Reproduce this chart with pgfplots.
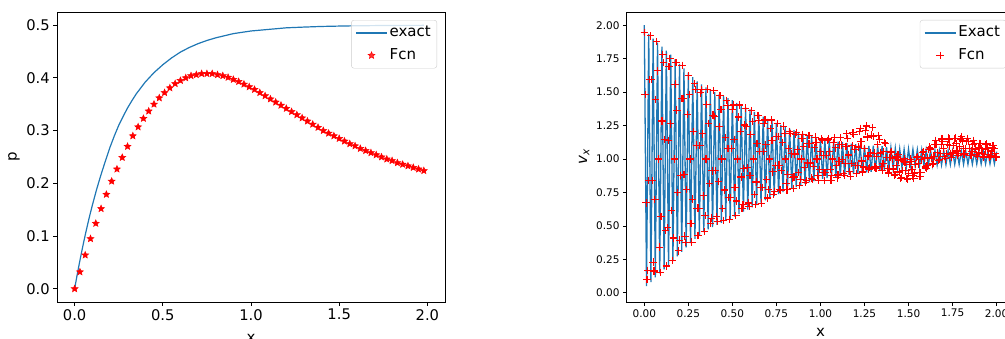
\documentclass[border=0pt]{standalone}
\usepackage{pgfplots}
\pgfplotsset{compat=1.18}
\usepackage{fontspec}
\setmainfont{DejaVu Sans}
\definecolor{mplblue}{HTML}{1F77B4}
\definecolor{legedge}{HTML}{CCCCCC}
\pgfdeclareplotmark{fstar}{%
 \pgfpathmoveto{\pgfpointpolar{90}{\pgfplotmarksize}}%
 \pgfpathlineto{\pgfpointpolar{126}{0.45\pgfplotmarksize}}%
 \pgfpathlineto{\pgfpointpolar{162}{\pgfplotmarksize}}%
 \pgfpathlineto{\pgfpointpolar{198}{0.45\pgfplotmarksize}}%
 \pgfpathlineto{\pgfpointpolar{234}{\pgfplotmarksize}}%
 \pgfpathlineto{\pgfpointpolar{270}{0.45\pgfplotmarksize}}%
 \pgfpathlineto{\pgfpointpolar{306}{\pgfplotmarksize}}%
 \pgfpathlineto{\pgfpointpolar{342}{0.45\pgfplotmarksize}}%
 \pgfpathlineto{\pgfpointpolar{18}{\pgfplotmarksize}}%
 \pgfpathlineto{\pgfpointpolar{54}{0.45\pgfplotmarksize}}%
 \pgfpathclose\pgfusepathqfillstroke}
\pgfplotsset{
 base/.style={
  scale only axis, anchor=south west,
  width=388pt, height=290pt,
  axis line style={line width=0.84pt},
  tick align=outside, major tick length=3.7pt,
  every tick/.style={black, line width=0.84pt},
  xtick pos=bottom, ytick pos=left,
  /pgf/number format/assume math mode=true,
  legend style={at={(1,1)}, anchor=north east, xshift=-8pt, yshift=-8pt,
    draw=legedge, rounded corners=2.5pt, fill=white, fill opacity=0.8, text opacity=1,
    font=\fontsize{15}{18}\selectfont, inner xsep=4pt, inner ysep=3.5pt, row sep=4pt,
    nodes={inner sep=2pt, text height=11pt, text depth=3.5pt}},
  legend cell align=left,
  /tikz/every even column/.append style={column sep=7pt},
 },
 lineleg/.style={legend image code/.code={\draw[##1] (0pt,0pt) -- (31pt,0pt);}},
 markleg/.style={legend image code/.code={\draw[mark repeat=2,mark phase=2,##1] plot coordinates {(0pt,0pt)(15.5pt,0pt)(31pt,0pt)};}},
}
\begin{document}
\begin{tikzpicture}
\begin{axis}[base, at={(57pt,36pt)},
 xmin=-0.1, xmax=2.1, ymin=-0.025, ymax=0.525,
 xtick={0,0.5,1,1.5,2}, ytick={0,0.1,0.2,0.3,0.4,0.5},
 tick label style={font=\fontsize{14.7}{17}\selectfont},
 xticklabel style={/pgf/number format/.cd,fixed,fixed zerofill,precision=1},
 yticklabel style={/pgf/number format/.cd,fixed,fixed zerofill,precision=1},
 xlabel={x}, ylabel={p},
 xlabel style={font=\fontsize{15}{18}\selectfont, at={(axis description cs:0.5,-0.126)}, anchor=center},
 ylabel style={font=\fontsize{15}{18}\selectfont, at={(axis description cs:-0.111,0.5)}, anchor=center},
]
\addplot[mplblue, line width=1.2pt, lineleg] coordinates {
(0,0)(0.0125,0.0232)(0.025,0.0453)(0.0375,0.0664)(0.05,0.0865)(0.0625,0.1057)
(0.075,0.124)(0.0875,0.1415)(0.1,0.158)(0.125,0.189)(0.15,0.217)(0.175,0.243)
(0.2,0.268)(0.225,0.290)(0.25,0.310)(0.275,0.327)(0.3,0.343)(0.325,0.357)
(0.35,0.370)(0.375,0.381)(0.4,0.392)(0.45,0.41)(0.5,0.425)(0.55,0.438)(0.6,0.449)
(0.65,0.4577)(0.7,0.465)(0.75,0.471)(0.8,0.476)(0.9,0.484)(1.0,0.489)(1.1,0.492)
(1.2,0.495)(1.3,0.4964)(1.4,0.4976)(1.5,0.4983)(1.6,0.4989)(1.7,0.4992)(1.8,0.4995)
(1.9,0.4996)(1.98,0.4997)
};
\addlegendentry{exact}
\addplot[only marks, mark=fstar, mark size=3.6pt, red, mark options={fill=red, line width=0.5pt}, markleg] coordinates {
(0,0)(0.03,0.032)(0.06,0.064)(0.09,0.095)(0.12,0.124)(0.15,0.152)(0.18,0.179)
(0.21,0.204)(0.24,0.227)(0.27,0.249)(0.30,0.270)(0.33,0.290)(0.36,0.307)(0.39,0.323)
(0.42,0.337)(0.45,0.350)(0.48,0.362)(0.51,0.372)(0.54,0.381)(0.57,0.389)(0.60,0.395)
(0.63,0.400)(0.66,0.404)(0.69,0.406)(0.72,0.408)(0.75,0.408)(0.78,0.408)(0.81,0.406)
(0.84,0.404)(0.87,0.401)(0.90,0.397)(0.93,0.393)(0.96,0.388)(0.99,0.383)(1.02,0.378)
(1.05,0.372)(1.08,0.366)(1.11,0.360)(1.14,0.354)(1.17,0.348)(1.20,0.342)(1.23,0.336)
(1.26,0.330)(1.29,0.324)(1.32,0.318)(1.35,0.312)(1.38,0.306)(1.41,0.300)(1.44,0.295)
(1.47,0.290)(1.50,0.285)(1.53,0.280)(1.56,0.275)(1.59,0.271)(1.62,0.266)(1.65,0.262)
(1.68,0.258)(1.71,0.254)(1.74,0.250)(1.77,0.246)(1.80,0.243)(1.83,0.239)(1.86,0.236)
(1.89,0.233)(1.92,0.230)(1.95,0.227)(1.98,0.224)
};
\addlegendentry{Fcn}
\end{axis}

\begin{axis}[base, at={(626.7pt,36pt)}, width=387.5pt,
 xmin=-0.1, xmax=2.1, ymin=-0.0685, ymax=2.0985,
 xtick={0,0.25,0.5,0.75,1,1.25,1.5,1.75,2}, ytick={0,0.25,0.5,0.75,1,1.25,1.5,1.75,2},
 tick label style={font=\fontsize{10.5}{12}\selectfont},
 xticklabel style={/pgf/number format/.cd,fixed,fixed zerofill,precision=2},
 yticklabel style={/pgf/number format/.cd,fixed,fixed zerofill,precision=2},
 xlabel={x}, ylabel={\textit{v}\textsubscript{\textit{x}}},
 xlabel style={font=\fontsize{15}{18}\selectfont, at={(axis description cs:0.5,-0.104)}, anchor=center},
 ylabel style={font=\fontsize{15}{18}\selectfont, at={(axis description cs:-0.110,0.5)}, anchor=center},
]
\addplot[mplblue, line width=1.3pt, lineleg] coordinates {
(0,2.000)(0.0125,0.050)(0.025,1.935)(0.0375,0.080)
(0.05,1.900)(0.0625,0.115)(0.075,1.870)(0.0875,0.145)
(0.1,1.840)(0.1125,0.175)(0.125,1.810)(0.1375,0.205)
(0.15,1.780)(0.1625,0.2375)(0.175,1.745)(0.1875,0.2725)
(0.2,1.710)(0.2125,0.306)(0.225,1.6775)(0.2375,0.339)
(0.25,1.645)(0.2625,0.371)(0.275,1.6125)(0.2875,0.404)
(0.3,1.580)(0.3125,0.431)(0.325,1.5575)(0.3375,0.454)
(0.35,1.535)(0.3625,0.474)(0.375,1.5175)(0.3875,0.491)
(0.4,1.500)(0.4125,0.5075)(0.425,1.485)(0.4375,0.5225)
(0.45,1.470)(0.4625,0.5375)(0.475,1.455)(0.4875,0.5525)
(0.5,1.440)(0.5125,0.570)(0.525,1.420)(0.5375,0.590)
(0.55,1.400)(0.5625,0.6075)(0.575,1.385)(0.5875,0.6225)
(0.6,1.370)(0.6125,0.639)(0.625,1.3525)(0.6375,0.656)
(0.65,1.335)(0.6625,0.674)(0.675,1.3175)(0.6875,0.691)
(0.7,1.300)(0.7125,0.7075)(0.725,1.285)(0.7375,0.7225)
(0.75,1.270)(0.7625,0.7375)(0.775,1.255)(0.7875,0.7525)
(0.8,1.240)(0.8125,0.766)(0.825,1.2275)(0.8375,0.779)
(0.85,1.215)(0.8625,0.791)(0.875,1.2025)(0.8875,0.804)
(0.9,1.190)(0.9125,0.815)(0.925,1.180)(0.9375,0.825)
(0.95,1.170)(0.9625,0.835)(0.975,1.160)(0.9875,0.845)
(1.0,1.150)(1.0125,0.8525)(1.025,1.145)(1.0375,0.8575)
(1.05,1.140)(1.0625,0.8625)(1.075,1.135)(1.0875,0.8675)
(1.1,1.130)(1.1125,0.8725)(1.125,1.125)(1.1375,0.8775)
(1.15,1.120)(1.1625,0.8825)(1.175,1.115)(1.1875,0.8875)
(1.2,1.110)(1.2125,0.8925)(1.225,1.105)(1.2375,0.8975)
(1.25,1.100)(1.2625,0.901)(1.275,1.0975)(1.2875,0.904)
(1.3,1.100)(1.3125,0.911)(1.325,1.0975)(1.3375,0.914)
(1.35,1.095)(1.3625,0.9175)(1.375,1.090)(1.3875,0.9225)
(1.4,1.085)(1.4125,0.9275)(1.425,1.080)(1.4375,0.9325)
(1.45,1.075)(1.4625,0.936)(1.475,1.0725)(1.4875,0.939)
(1.5,1.075)(1.5125,0.946)(1.525,1.0725)(1.5375,0.949)
(1.55,1.070)(1.5625,0.9505)(1.575,1.069)(1.5875,0.9515)
(1.6,1.068)(1.6125,0.953)(1.625,1.0665)(1.6375,0.954)
(1.65,1.065)(1.6625,0.9555)(1.675,1.064)(1.6875,0.9565)
(1.7,1.063)(1.7125,0.958)(1.725,1.0615)(1.7375,0.959)
(1.75,1.060)(1.7625,0.960)(1.775,1.060)(1.7875,0.960)
(1.8,1.060)(1.8125,0.9605)(1.825,1.059)(1.8375,0.9615)
(1.85,1.058)(1.8625,0.962)(1.875,1.0575)(1.8875,0.9625)
(1.9,1.057)(1.9125,0.963)(1.925,1.0565)(1.9375,0.9635)
(1.95,1.056)(1.9625,0.964)(1.975,1.0555)(1.9875,0.9645)
(2.0,1.055)
};
\addlegendentry{Exact}
\addplot[only marks, mark=+, mark size=3.7pt, red, mark options={line width=1.15pt}, markleg] coordinates {
(0,1.946)(0.005,1.48)(0.01,0.672)(0.015,0.098)(0.02,0.169)
(0.025,0.84)(0.03,1.592)(0.035,1.92)(0.04,1.592)(0.045,0.84)
(0.05,0.229)(0.055,0.163)(0.06,0.696)(0.065,1.445)(0.07,1.877)
(0.075,1.659)(0.08,1.0)(0.085,0.341)(0.09,0.153)(0.095,0.57)
(0.1,1.284)(0.105,1.78)(0.11,1.719)(0.115,1.144)(0.12,0.466)
(0.125,0.2)(0.13,0.486)(0.135,1.139)(0.14,1.693)(0.145,1.752)
(0.15,1.263)(0.155,0.615)(0.16,0.242)(0.165,0.41)(0.17,1.0)
(0.175,1.559)(0.18,1.719)(0.185,1.365)(0.19,0.75)(0.195,0.314)
(0.2,0.394)(0.205,0.878)(0.21,1.45)(0.215,1.70)(0.22,1.45)
(0.225,0.884)(0.23,0.424)(0.235,0.375)(0.24,0.773)(0.245,1.333)
(0.25,1.621)(0.255,1.483)(0.26,1.0)(0.265,0.517)(0.27,0.379)
(0.275,0.70)(0.28,1.205)(0.285,1.564)(0.29,1.52)(0.295,1.104)
(0.3,0.633)(0.305,0.43)(0.31,0.633)(0.315,1.099)(0.32,1.494)
(0.325,1.517)(0.33,1.188)(0.335,0.725)(0.34,0.458)(0.345,0.579)
(0.35,1.0)(0.355,1.406)(0.36,1.522)(0.365,1.265)(0.37,0.819)
(0.375,0.521)(0.38,0.558)(0.385,0.911)(0.39,1.328)(0.395,1.51)
(0.4,1.318)(0.405,0.914)(0.41,0.571)(0.415,0.535)(0.42,0.831)
(0.425,1.24)(0.43,1.473)(0.435,1.368)(0.44,1.0)(0.445,0.632)
(0.45,0.542)(0.455,0.768)(0.46,1.159)(0.465,1.437)(0.47,1.403)
(0.475,1.078)(0.48,0.711)(0.485,0.55)(0.49,0.711)(0.495,1.078)
(0.5,1.372)(0.505,1.404)(0.51,1.147)(0.515,0.785)(0.52,0.576)
(0.525,0.686)(0.53,1.0)(0.535,1.314)(0.54,1.404)(0.545,1.205)
(0.55,0.865)(0.555,0.629)(0.56,0.658)(0.565,0.931)(0.57,1.254)
(0.575,1.38)(0.58,1.244)(0.585,0.934)(0.59,0.671)(0.595,0.643)
(0.6,0.875)(0.605,1.183)(0.61,1.36)(0.615,1.28)(0.62,1.0)
(0.625,0.736)(0.63,0.66)(0.635,0.828)(0.64,1.118)(0.645,1.324)
(0.65,1.286)(0.655,1.057)(0.66,0.788)(0.665,0.67)(0.67,0.788)
(0.675,1.054)(0.68,1.268)(0.685,1.291)(0.69,1.106)(0.695,0.845)
(0.7,0.709)(0.705,0.774)(0.71,1.0)(0.715,1.226)(0.72,1.291)
(0.725,1.14)(0.73,0.904)(0.735,0.737)(0.74,0.758)(0.745,0.951)
(0.75,1.17)(0.755,1.265)(0.76,1.17)(0.765,0.954)(0.77,0.771)
(0.775,0.765)(0.78,0.915)(0.785,1.125)(0.79,1.246)(0.795,1.192)
(0.8,1.0)(0.805,0.82)(0.81,0.769)(0.815,0.883)(0.82,1.08)
(0.825,1.207)(0.83,1.191)(0.835,1.038)(0.84,0.859)(0.845,0.78)
(0.85,0.865)(0.855,1.037)(0.86,1.182)(0.865,1.197)(0.87,1.072)
(0.875,0.9)(0.88,0.803)(0.885,0.847)(0.89,1.0)(0.895,1.153)
(0.9,1.182)(0.905,1.093)(0.91,0.937)(0.915,0.826)(0.92,0.84)
(0.925,0.97)(0.93,1.113)(0.935,1.175)(0.94,1.113)(0.945,0.97)
(0.95,0.857)(0.955,0.845)(0.96,0.944)(0.965,1.083)(0.97,1.163)
(0.975,1.123)(0.98,1.0)(0.985,0.877)(0.99,0.842)(0.995,0.92)
(1.0,1.055)(1.005,1.15)(1.01,1.139)(1.015,1.028)(1.02,0.897)
(1.025,0.84)(1.03,0.897)(1.035,1.028)(1.04,1.139)(1.045,1.15)
(1.05,1.055)(1.055,0.92)(1.06,0.842)(1.065,0.877)(1.07,1.0)
(1.075,1.124)(1.08,1.158)(1.085,1.083)(1.09,0.952)(1.095,0.859)
(1.1,0.88)(1.105,0.984)(1.11,1.106)(1.115,1.16)(1.12,1.106)
(1.125,0.994)(1.13,0.89)(1.135,0.879)(1.14,0.969)(1.145,1.095)
(1.15,1.188)(1.155,1.153)(1.16,1.03)(1.165,0.907)(1.17,0.872)
(1.175,0.965)(1.18,1.1)(1.185,1.195)(1.19,1.184)(1.195,1.073)
(1.2,0.951)(1.205,0.89)(1.21,0.951)(1.215,1.09)(1.22,1.207)
(1.225,1.23)(1.23,1.128)(1.235,0.985)(1.24,0.903)(1.245,0.94)
(1.25,1.08)(1.255,1.21)(1.26,1.247)(1.265,1.165)(1.27,1.022)
(1.275,0.925)(1.28,0.936)(1.285,1.047)(1.29,1.178)(1.295,1.235)
(1.3,1.166)(1.305,1.044)(1.31,0.94)(1.315,0.929)(1.32,1.019)
(1.325,1.11)(1.33,1.173)(1.335,1.145)(1.34,1.045)(1.345,0.945)
(1.35,0.912)(1.355,0.965)(1.36,1.058)(1.365,1.123)(1.37,1.115)
(1.375,1.012)(1.38,0.931)(1.385,0.895)(1.39,0.931)(1.395,1.012)
(1.4,1.048)(1.405,1.055)(1.41,1.001)(1.415,0.925)(1.42,0.881)
(1.425,0.885)(1.43,0.95)(1.435,1.015)(1.44,1.034)(1.445,0.993)
(1.45,0.903)(1.455,0.855)(1.46,0.861)(1.465,0.916)(1.47,0.981)
(1.475,1.005)(1.48,0.976)(1.485,0.911)(1.49,0.856)(1.495,0.85)
(1.5,0.893)(1.505,0.96)(1.51,0.999)(1.515,0.981)(1.52,0.92)
(1.525,0.874)(1.53,0.856)(1.535,0.895)(1.54,0.962)(1.545,1.01)
(1.55,1.019)(1.555,0.964)(1.56,0.899)(1.565,0.87)(1.57,0.899)
(1.575,0.994)(1.58,1.049)(1.585,1.055)(1.59,1.007)(1.595,0.94)
(1.6,0.931)(1.605,0.949)(1.61,1.01)(1.615,1.071)(1.62,1.089)
(1.625,1.075)(1.63,1.008)(1.635,0.96)(1.64,0.966)(1.645,1.021)
(1.65,1.111)(1.655,1.14)(1.66,1.111)(1.665,1.046)(1.67,0.991)
(1.675,0.995)(1.68,1.043)(1.685,1.11)(1.69,1.149)(1.695,1.131)
(1.7,1.08)(1.705,1.019)(1.71,1.001)(1.715,1.04)(1.72,1.107)
(1.725,1.156)(1.73,1.15)(1.735,1.098)(1.74,1.037)(1.745,1.01)
(1.75,1.045)(1.755,1.102)(1.76,1.151)(1.765,1.156)(1.77,1.114)
(1.775,1.06)(1.78,1.026)(1.785,1.041)(1.79,1.095)(1.795,1.149)
(1.8,1.169)(1.805,1.135)(1.81,1.076)(1.815,1.034)(1.82,1.039)
(1.825,1.079)(1.83,1.132)(1.835,1.155)(1.84,1.132)(1.845,1.079)
(1.85,1.028)(1.855,1.024)(1.86,1.059)(1.865,1.11)(1.87,1.139)
(1.875,1.117)(1.88,1.075)(1.885,1.033)(1.89,1.021)(1.895,1.048)
(1.9,1.087)(1.905,1.117)(1.91,1.113)(1.915,1.079)(1.92,1.038)
(1.925,1.015)(1.93,1.033)(1.935,1.074)(1.94,1.108)(1.945,1.112)
(1.95,1.077)(1.955,1.035)(1.96,1.011)(1.965,1.022)(1.97,1.06)
(1.975,1.089)(1.98,1.099)(1.985,1.078)(1.99,1.04)(1.995,1.013)
(2.0,1.015)
};
\addlegendentry{Fcn}
\end{axis}
\pgfresetboundingbox
\useasboundingbox (0,0) rectangle (1005pt,338pt);
\end{tikzpicture}
\end{document}
